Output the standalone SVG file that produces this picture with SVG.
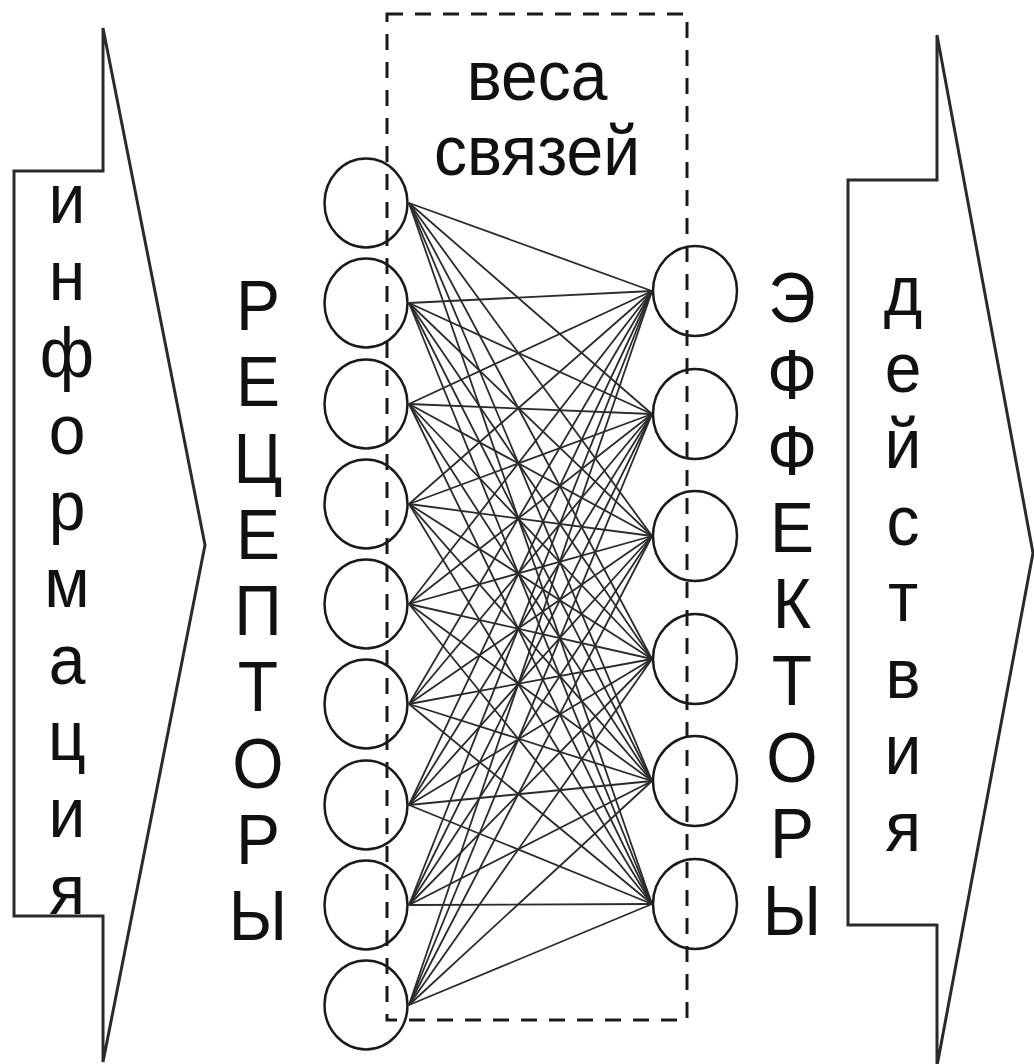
<svg xmlns="http://www.w3.org/2000/svg" width="1034" height="1064" viewBox="0 0 1034 1064">
<style>
.arrow{fill:#fff;stroke:#2a2a2a;stroke-width:3;stroke-linejoin:miter}
.node{fill:none;stroke:#1a1a1a;stroke-width:2.5}
.conn line{stroke:#2b2b2b;stroke-width:1.8}
.box{fill:none;stroke:#1a1a1a;stroke-width:3;stroke-dasharray:16 12}
text{font-family:"Liberation Sans",Arial,sans-serif;font-size:66px;fill:#111;text-anchor:middle}
</style>
<rect width="1034" height="1064" fill="#fff"/>
<g id="input-arrow">
<polygon class="arrow" points="103,28 205,545 103,1062 103,916 14,916 14,171 103,171"/>
<text transform="translate(67,223) scale(1,1.06)">и</text>
<text transform="translate(67,300) scale(1,1.06)">н</text>
<text transform="translate(67,377) scale(1,1.06)">ф</text>
<text transform="translate(67,454) scale(1,1.06)">о</text>
<text transform="translate(67,530) scale(1,1.06)">р</text>
<text transform="translate(67,607) scale(1,1.06)">м</text>
<text transform="translate(67,684) scale(1,1.06)">а</text>
<text transform="translate(67,760) scale(1,1.06)">ц</text>
<text transform="translate(67,837) scale(1,1.06)">и</text>
<text transform="translate(67,914) scale(1,1.06)">я</text>
</g>
<g id="output-arrow">
<polygon class="arrow" points="937,35 1033,553 937,1066 937,925 848,925 848,180 937,180"/>
<text transform="translate(903,315) scale(1,1.06)">д</text>
<text transform="translate(903,392) scale(1,1.06)">е</text>
<text transform="translate(903,468) scale(1,1.06)">й</text>
<text transform="translate(903,545) scale(1,1.06)">с</text>
<text transform="translate(903,621) scale(1,1.06)">т</text>
<text transform="translate(903,698) scale(1,1.06)">в</text>
<text transform="translate(903,774) scale(1,1.06)">и</text>
<text transform="translate(903,851) scale(1,1.06)">я</text>
</g>
<g id="label-receptors">
<text transform="translate(258,330) scale(1,1.06)">Р</text>
<text transform="translate(258,406) scale(1,1.06)">Е</text>
<text transform="translate(258,483) scale(1,1.06)">Ц</text>
<text transform="translate(258,559) scale(1,1.06)">Е</text>
<text transform="translate(258,635) scale(1,1.06)">П</text>
<text transform="translate(258,711) scale(1,1.06)">Т</text>
<text transform="translate(258,788) scale(1,1.06)">О</text>
<text transform="translate(258,864) scale(1,1.06)">Р</text>
<text transform="translate(258,940) scale(1,1.06)">Ы</text>
</g>
<g id="label-effectors">
<text transform="translate(792,322) scale(1,1.06)">Э</text>
<text transform="translate(792,399) scale(1,1.06)">Ф</text>
<text transform="translate(792,475) scale(1,1.06)">Ф</text>
<text transform="translate(792,552) scale(1,1.06)">Е</text>
<text transform="translate(792,628) scale(1,1.06)">К</text>
<text transform="translate(792,705) scale(1,1.06)">Т</text>
<text transform="translate(792,782) scale(1,1.06)">О</text>
<text transform="translate(792,858) scale(1,1.06)">Р</text>
<text transform="translate(792,935) scale(1,1.06)">Ы</text>
</g>
<g id="label-weights">
<text transform="translate(537,100) scale(1,1.06)">веса</text>
<text transform="translate(537,175) scale(1,1.06)">связей</text>
</g>
<g id="connectors" class="conn">
<line x1="409" y1="203" x2="652" y2="291"/><line x1="409" y1="203" x2="652" y2="414"/><line x1="409" y1="203" x2="652" y2="536"/><line x1="409" y1="203" x2="652" y2="659"/><line x1="409" y1="203" x2="652" y2="781"/><line x1="409" y1="203" x2="652" y2="904"/>
<line x1="409" y1="303" x2="652" y2="291"/><line x1="409" y1="303" x2="652" y2="414"/><line x1="409" y1="303" x2="652" y2="536"/><line x1="409" y1="303" x2="652" y2="659"/><line x1="409" y1="303" x2="652" y2="781"/><line x1="409" y1="303" x2="652" y2="904"/>
<line x1="409" y1="404" x2="652" y2="291"/><line x1="409" y1="404" x2="652" y2="414"/><line x1="409" y1="404" x2="652" y2="536"/><line x1="409" y1="404" x2="652" y2="659"/><line x1="409" y1="404" x2="652" y2="781"/><line x1="409" y1="404" x2="652" y2="904"/>
<line x1="409" y1="504" x2="652" y2="291"/><line x1="409" y1="504" x2="652" y2="414"/><line x1="409" y1="504" x2="652" y2="536"/><line x1="409" y1="504" x2="652" y2="659"/><line x1="409" y1="504" x2="652" y2="781"/><line x1="409" y1="504" x2="652" y2="904"/>
<line x1="409" y1="604" x2="652" y2="291"/><line x1="409" y1="604" x2="652" y2="414"/><line x1="409" y1="604" x2="652" y2="536"/><line x1="409" y1="604" x2="652" y2="659"/><line x1="409" y1="604" x2="652" y2="781"/><line x1="409" y1="604" x2="652" y2="904"/>
<line x1="409" y1="704" x2="652" y2="291"/><line x1="409" y1="704" x2="652" y2="414"/><line x1="409" y1="704" x2="652" y2="536"/><line x1="409" y1="704" x2="652" y2="659"/><line x1="409" y1="704" x2="652" y2="781"/><line x1="409" y1="704" x2="652" y2="904"/>
<line x1="409" y1="805" x2="652" y2="291"/><line x1="409" y1="805" x2="652" y2="414"/><line x1="409" y1="805" x2="652" y2="536"/><line x1="409" y1="805" x2="652" y2="659"/><line x1="409" y1="805" x2="652" y2="781"/><line x1="409" y1="805" x2="652" y2="904"/>
<line x1="409" y1="905" x2="652" y2="291"/><line x1="409" y1="905" x2="652" y2="414"/><line x1="409" y1="905" x2="652" y2="536"/><line x1="409" y1="905" x2="652" y2="659"/><line x1="409" y1="905" x2="652" y2="781"/><line x1="409" y1="905" x2="652" y2="904"/>
<line x1="409" y1="1005" x2="652" y2="291"/><line x1="409" y1="1005" x2="652" y2="414"/><line x1="409" y1="1005" x2="652" y2="536"/><line x1="409" y1="1005" x2="652" y2="659"/><line x1="409" y1="1005" x2="652" y2="781"/><line x1="409" y1="1005" x2="652" y2="904"/>
</g>
<g id="receptor-1"><ellipse class="node" cx="366" cy="203" rx="41.5" ry="44.5"/></g>
<g id="receptor-2"><ellipse class="node" cx="366" cy="303" rx="41.5" ry="44.5"/></g>
<g id="receptor-3"><ellipse class="node" cx="366" cy="404" rx="41.5" ry="44.5"/></g>
<g id="receptor-4"><ellipse class="node" cx="366" cy="504" rx="41.5" ry="44.5"/></g>
<g id="receptor-5"><ellipse class="node" cx="366" cy="604" rx="41.5" ry="44.5"/></g>
<g id="receptor-6"><ellipse class="node" cx="366" cy="704" rx="41.5" ry="44.5"/></g>
<g id="receptor-7"><ellipse class="node" cx="366" cy="805" rx="41.5" ry="44.5"/></g>
<g id="receptor-8"><ellipse class="node" cx="366" cy="905" rx="41.5" ry="44.5"/></g>
<g id="receptor-9"><ellipse class="node" cx="366" cy="1005" rx="41.5" ry="44.5"/></g>
<g id="effector-1"><ellipse class="node" cx="695" cy="291" rx="42" ry="45"/></g>
<g id="effector-2"><ellipse class="node" cx="695" cy="414" rx="42" ry="45"/></g>
<g id="effector-3"><ellipse class="node" cx="695" cy="536" rx="42" ry="45"/></g>
<g id="effector-4"><ellipse class="node" cx="695" cy="659" rx="42" ry="45"/></g>
<g id="effector-5"><ellipse class="node" cx="695" cy="781" rx="42" ry="45"/></g>
<g id="effector-6"><ellipse class="node" cx="695" cy="904" rx="42" ry="45"/></g>
<g id="weights-box"><rect class="box" x="387" y="14" width="300" height="1006"/></g>
</svg>
